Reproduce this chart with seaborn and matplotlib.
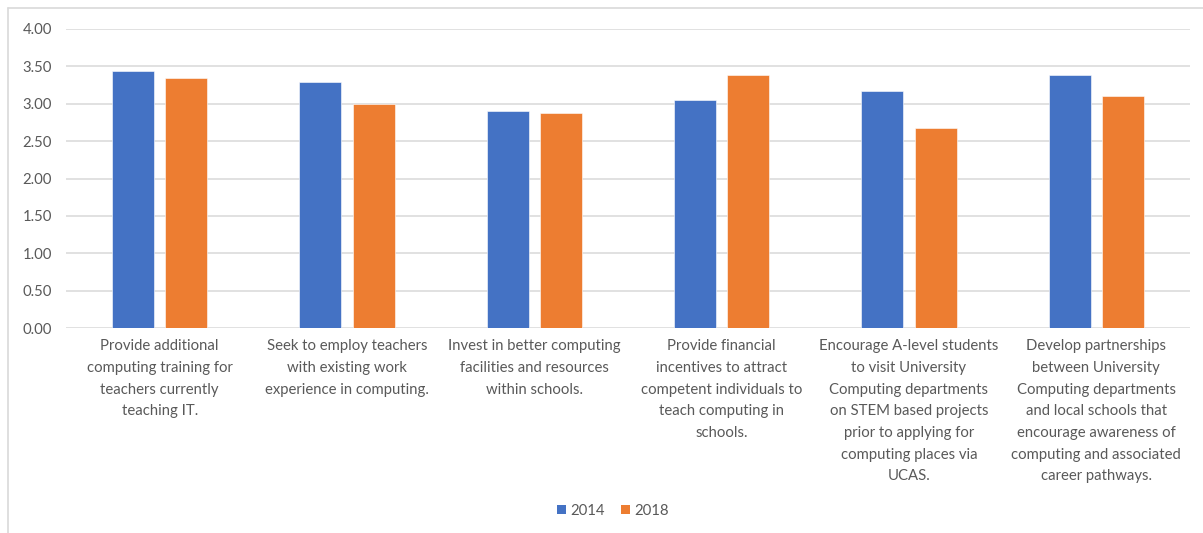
import matplotlib
matplotlib.use("Agg")
import matplotlib.pyplot as plt
from matplotlib.lines import Line2D
from matplotlib.patches import Patch
import seaborn as sns
import pandas as pd

# Survey statements (wrapped as they appear under each group)
categories = [
    "Provide additional\ncomputing training for\nteachers currently\nteaching IT.",
    "Seek to employ teachers\nwith existing work\nexperience in computing.",
    "Invest in better computing\nfacilities and resources\nwithin schools.",
    "Provide financial\nincentives to attract\ncompetent individuals to\nteach computing in\nschools.",
    "Encourage A-level students\nto visit University\nComputing departments\non STEM based projects\nprior to applying for\ncomputing places via\nUCAS.",
    "Develop partnerships\nbetween University\nComputing departments\nand local schools that\nencourage awareness of\ncomputing and associated\ncareer pathways.",
]
years = ["2014", "2018"]
scores_2014 = [3.44, 3.29, 2.90, 3.05, 3.17, 3.39]
scores_2018 = [3.35, 3.00, 2.87, 3.38, 2.68, 3.10]
y_ticks = [0.0, 0.5, 1.0, 1.5, 2.0, 2.5, 3.0, 3.5, 4.0]

colors = {"2014": "#4472C4", "2018": "#ED7D31"}
text_color = "#595959"
grid_color = "#D9D9D9"
font_size = 10.7

df = pd.DataFrame({
    "category": categories * 2,
    "year": [years[0]] * len(categories) + [years[1]] * len(categories),
    "score": scores_2014 + scores_2018,
})

sns.set_theme(style="white")
plt.rcParams["font.family"] = ["Lato", "DejaVu Sans"]

fig = plt.figure(figsize=(12.03, 5.33), dpi=100)
ax = fig.add_axes([66 / 1203, 1 - 328 / 533, (1190 - 66) / 1203, (328 - 29) / 533])

sns.barplot(
    data=df, x="category", y="score", hue="year",
    order=categories, hue_order=years, palette=colors,
    width=0.571, gap=0.216, saturation=1, legend=False,
    edgecolor="white", linewidth=0.4, ax=ax, zorder=3,
)

ax.set_ylim(0, 4)
ax.set_xlim(-0.5, len(categories) - 0.5)
ax.set_yticks(y_ticks)
ax.set_yticklabels([f"{v:.2f}" for v in y_ticks])
ax.yaxis.grid(True, color=grid_color, linewidth=1.1, zorder=0)
ax.set_axisbelow(True)
for s in ax.spines.values():
    s.set_visible(False)
ax.set_xlabel("")
ax.set_ylabel("")
ax.tick_params(axis="both", length=0, colors=text_color, labelsize=font_size)
ax.tick_params(axis="x", pad=8)
ax.tick_params(axis="y", pad=10)
for lbl in ax.get_xticklabels():
    lbl.set_linespacing(1.7)
    lbl.set_verticalalignment("top")

handles = [Patch(facecolor=colors[y], edgecolor="none") for y in years]
fig.legend(
    handles, years, loc="center", bbox_to_anchor=(613 / 1203, 1 - 511 / 533),
    ncol=2, frameon=False, fontsize=font_size, labelcolor=text_color,
    handlelength=0.6, handleheight=0.6, handletextpad=0.3, columnspacing=1.1,
)

# chart-area border (left and top edges)
fig.add_artist(Line2D([7.5 / 1203, 7.5 / 1203], [0, 1 - 7.5 / 533],
                      transform=fig.transFigure, color="#D9D9D9", linewidth=1.2))
fig.add_artist(Line2D([7.5 / 1203, 1], [1 - 7.5 / 533, 1 - 7.5 / 533],
                      transform=fig.transFigure, color="#D9D9D9", linewidth=1.2))

fig.savefig("out.png", dpi=100, facecolor="white")
